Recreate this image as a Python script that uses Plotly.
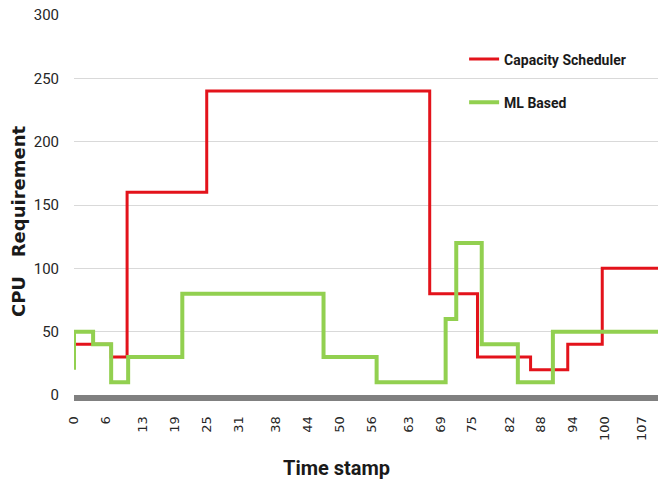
import plotly.graph_objects as go

# Step-series data (time stamp where each level starts, value at that level)
cap_x = [0, 7, 10, 25, 67, 76, 86, 93, 99.5, 110]
cap_y = [40, 30, 160, 240, 80, 30, 20, 40, 100, 100]

ml_x = [0, 0, 3.6, 7, 10.2, 20.4, 47, 57, 70, 72, 76.8, 83.6, 90.2, 110]
ml_y = [20, 50, 40, 10, 30, 80, 30, 10, 60, 120, 40, 10, 50, 50]

x_tick_vals = [0, 6, 13, 19, 25, 31, 38, 44, 50, 56, 63, 69, 75, 82, 88, 94, 100, 107]
x_tick_text = [str(v) for v in x_tick_vals]
y_tick_vals = [0, 50, 100, 150, 200, 250, 300]

NARROW = "Roboto, Liberation Sans, sans-serif"

fig = go.Figure()
fig.add_trace(go.Scatter(
    x=cap_x, y=cap_y, mode="lines", line_shape="hv",
    name="Capacity Scheduler", legendgroup="a",
    line=dict(color="#E3131B", width=3),
))
fig.add_trace(go.Scatter(
    x=ml_x, y=ml_y, mode="lines", line_shape="hv",
    name="ML Based", legendgroup="b",
    line=dict(color="#92D050", width=4),
))

fig.update_layout(
    width=658, height=485,
    margin=dict(l=74, r=0, t=15, b=90),
    paper_bgcolor="white", plot_bgcolor="white",
    showlegend=True,
    legend=dict(
        x=0.668, y=0.925, xanchor="left", yanchor="top",
        tracegroupgap=22, bgcolor="rgba(0,0,0,0)",
        font=dict(family=NARROW, size=14, color="#1a1a1a", weight="bold"),
    ),
    xaxis=dict(
        range=[0, 110], tickvals=x_tick_vals, ticktext=x_tick_text,
        tickangle=-90, showgrid=False, zeroline=False, automargin=False,
        showline=True, linecolor="#808080", linewidth=6,
        tickfont=dict(family="DejaVu Sans", size=13, color="#262626"),
        ticks="", ticklabelstandoff=10, ticklabeloverflow="allow",
    ),
    yaxis=dict(
        range=[0, 300], tickvals=y_tick_vals, showgrid=True, automargin=False,
        gridcolor="#D9D9D9", gridwidth=1, zeroline=False, showline=False,
        tickfont=dict(family=NARROW, size=15, color="#262626"),
        ticks="", ticklabelstandoff=14, ticklabeloverflow="allow",
    ),
    annotations=[
        dict(text="CPU   Requirement", xref="paper", yref="paper",
             x=-0.094, y=0.458, textangle=-90, showarrow=False,
             xanchor="center", yanchor="middle",
             font=dict(family="DejaVu Sans", size=18, color="#1a1a1a", weight="bold")),
        dict(text="Time stamp", xref="paper", yref="paper",
             x=0.450, y=-0.192, showarrow=False,
             xanchor="center", yanchor="middle",
             font=dict(family=NARROW, size=20, color="#1a1a1a", weight="bold")),
    ],
)

fig.write_html(
    "out.html",
    config={"displayModeBar": False},
    post_script="document.body.style.margin='0';document.body.style.overflow='hidden';",
)
